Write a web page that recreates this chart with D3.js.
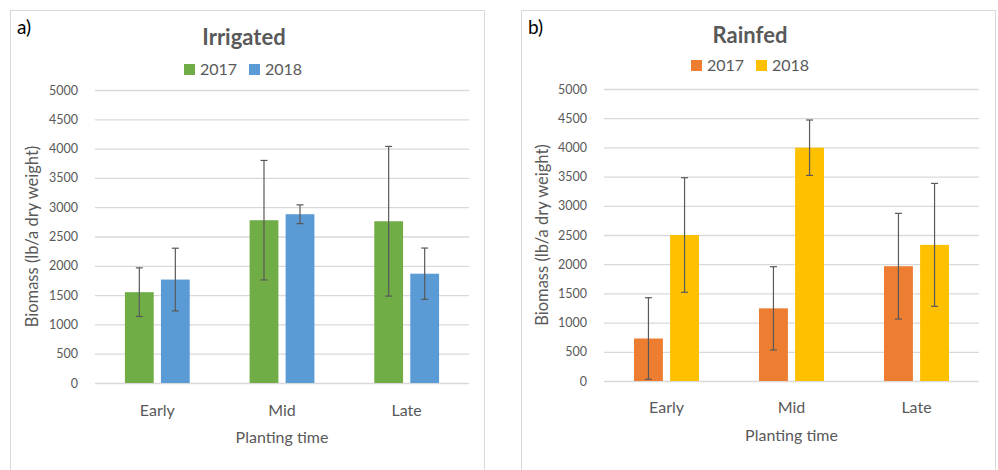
<!DOCTYPE html>
<html>
<head>
<meta charset="utf-8">
<script src="https://cdn.jsdelivr.net/npm/d3@7"></script>
<style>
  body { margin: 0; background: #fff; }
  svg { display: block; font-family: Lato, "Open Sans", sans-serif; }
</style>
</head>
<body>
<script>
// data
var categories = ["Early", "Mid", "Late"];
var years = ["2017", "2018"];
var yTicks = [0, 500, 1000, 1500, 2000, 2500, 3000, 3500, 4000, 4500, 5000];

var irrigated2017 = [1550, 2778, 2760];
var irrigated2018 = [1765, 2880, 1865];
var irrigatedErr2017 = [415, 1020, 1277];
var irrigatedErr2018 = [535, 160, 438];

var rainfed2017 = [728, 1244, 1966];
var rainfed2018 = [2500, 3995, 2331];
var rainfedErr2017 = [698, 713, 905];
var rainfedErr2018 = [981, 474, 1052];

var width = 998,
    height = 470;

var svg = d3.select("body").append("svg")
    .attr("width", width)
    .attr("height", height);

function drawPanel(p) {
    // panel frame
    svg.append("rect")
        .attr("x", p.frame[0] + 0.5)
        .attr("y", 10.5)
        .attr("width", p.frame[1] - p.frame[0])
        .attr("height", 470)
        .attr("fill", "#fff")
        .attr("stroke", "#d9d9d9");

    svg.append("text")
        .attr("x", p.frame[0] + 7)
        .attr("y", 34)
        .attr("font-size", 19)
        .attr("fill", "#000")
        .text(p.letter);

    var x0 = d3.scaleBand()
        .domain(categories)
        .range([p.left, p.right])
        .padding(0);

    var step = x0.bandwidth();
    var x1 = d3.scaleBand()
        .domain(years)
        .range([step * 0.24, step * 0.76])
        .paddingInner(0.2);

    var y = d3.scaleLinear()
        .domain([0, 5000])
        .range([p.bottom, p.top]);

    // gridlines + tick labels
    var yAxis = d3.axisLeft(y)
        .tickValues(yTicks)
        .tickFormat(d3.format("d"))
        .tickSize(-(p.right - p.left))
        .tickPadding(17);

    var gy = svg.append("g")
        .attr("transform", "translate(" + p.left + ",0)")
        .call(yAxis);
    gy.select(".domain").remove();
    gy.selectAll(".tick line").attr("stroke", "#d9d9d9").attr("stroke-width", 1.3);
    gy.selectAll(".tick text")
        .attr("fill", "#595959")
        .attr("font-size", 12.5)
        .attr("font-family", "Lato, sans-serif");

    // category axis
    var xAxis = d3.axisBottom(x0).tickSize(0);
    var gx = svg.append("g")
        .attr("transform", "translate(0," + p.bottom + ")")
        .call(xAxis);
    gx.select(".domain").remove();
    gx.selectAll(".tick text")
        .attr("y", p.catOffset)
        .attr("dy", null)
        .attr("fill", "#595959")
        .attr("font-size", 16)
        .attr("font-family", "Lato, sans-serif");

    var rows = [];
    years.forEach(function(yr, s) {
        categories.forEach(function(c, i) {
            rows.push({ cat: c, year: yr, v: p.values[s][i], e: p.errors[s][i], color: p.colors[s] });
        });
    });

    svg.append("g").selectAll("rect")
        .data(rows)
        .enter().append("rect")
        .attr("x", function(d) { return x0(d.cat) + x1(d.year); })
        .attr("y", function(d) { return y(d.v); })
        .attr("width", x1.bandwidth())
        .attr("height", function(d) { return y(0) - y(d.v); })
        .attr("fill", function(d) { return d.color; });

    // error bars
    var eb = svg.append("g").selectAll("g")
        .data(rows)
        .enter().append("g")
        .attr("stroke", "#595959")
        .attr("stroke-width", 1.2);
    function cx(d) { return x0(d.cat) + x1(d.year) + x1.bandwidth() / 2; }
    eb.append("line")
        .attr("x1", cx).attr("x2", cx)
        .attr("y1", function(d) { return y(d.v + d.e); })
        .attr("y2", function(d) { return y(Math.max(0, d.v - d.e)); });
    eb.append("line")
        .attr("x1", function(d) { return cx(d) - 3.5; })
        .attr("x2", function(d) { return cx(d) + 3.5; })
        .attr("y1", function(d) { return y(d.v + d.e); })
        .attr("y2", function(d) { return y(d.v + d.e); });
    eb.append("line")
        .attr("x1", function(d) { return cx(d) - 3.5; })
        .attr("x2", function(d) { return cx(d) + 3.5; })
        .attr("y1", function(d) { return y(Math.max(0, d.v - d.e)); })
        .attr("y2", function(d) { return y(Math.max(0, d.v - d.e)); });

    // title
    svg.append("text")
        .attr("x", p.titleX)
        .attr("y", p.titleY)
        .attr("text-anchor", "middle")
        .attr("font-size", 22)
        .attr("font-weight", "bold")
        .attr("fill", "#595959")
        .text(p.title);

    // legend
    var lg = svg.append("g")
        .attr("transform", "translate(" + p.legendX + "," + p.legendY + ")");
    years.forEach(function(yr, s) {
        var item = lg.append("g").attr("transform", "translate(" + (s * 65) + ",0)");
        item.append("rect")
            .attr("x", 0).attr("y", -11)
            .attr("width", 11).attr("height", 11)
            .attr("fill", p.colors[s]);
        item.append("text")
            .attr("x", 16)
            .attr("y", 0)
            .attr("font-size", 16)
            .attr("fill", "#595959")
            .text(yr);
    });

    // axis titles
    svg.append("text")
        .attr("transform", "translate(" + p.yTitleX + "," + ((p.top + p.bottom) / 2) + ") rotate(-90)")
        .attr("text-anchor", "middle")
        .attr("font-size", 16.5)
        .attr("fill", "#595959")
        .text("Biomass (lb/a dry weight)");

    svg.append("text")
        .attr("x", (p.left + p.right) / 2)
        .attr("y", p.bottom + p.xTitleOffset)
        .attr("text-anchor", "middle")
        .attr("font-size", 16)
        .attr("fill", "#595959")
        .text("Planting time");
}

drawPanel({
    frame: [10, 484], letter: "a)", title: "Irrigated",
    left: 95, right: 469, top: 90, bottom: 383,
    values: [irrigated2017, irrigated2018],
    errors: [irrigatedErr2017, irrigatedErr2018],
    colors: ["#70ad47", "#5b9bd5"],
    titleX: 244, titleY: 45, legendX: 184, legendY: 75,
    yTitleX: 38, catOffset: 33, xTitleOffset: 60
});

drawPanel({
    frame: [521, 995], letter: "b)", title: "Rainfed",
    left: 604, right: 979, top: 89, bottom: 381,
    values: [rainfed2017, rainfed2018],
    errors: [rainfedErr2017, rainfedErr2018],
    colors: ["#ed7d31", "#ffc000"],
    titleX: 750, titleY: 43, legendX: 691, legendY: 71,
    yTitleX: 548, catOffset: 32, xTitleOffset: 60
});
</script>
</body>
</html>
